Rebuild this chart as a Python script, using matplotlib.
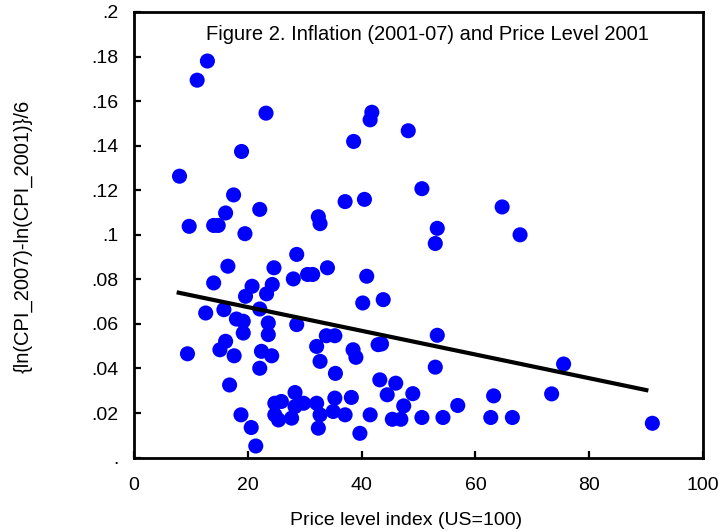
import matplotlib
matplotlib.use("Agg")
import matplotlib.pyplot as plt
import numpy as np

plt.rcParams['font.family'] = ['Liberation Sans', 'DejaVu Sans']

price_level = [
    8.0, 11.1, 12.9, 23.2, 18.9, 17.5, 22.1, 16.1, 9.7, 14.0, 14.8, 19.5,
    32.4, 32.7, 37.1, 40.5, 38.6, 41.8, 41.5, 48.2, 50.6, 64.7, 53.3, 52.95,
    67.85, 53.3, 52.95, 75.5, 91.1, 73.4, 63.2, 62.7, 66.5, 56.9, 54.3, 50.6,
    49.0, 47.4, 46.9, 45.4, 46.0, 43.2, 44.5, 35.4, 22.1, 16.8, 18.8, 20.6,
    21.4, 24.75, 25.9, 28.3, 29.8, 24.75, 25.4, 27.7, 28.3, 32.1, 32.7, 32.4,
    35.3, 35.0, 37.1, 38.2, 41.5, 39.7, 28.6, 16.5, 24.6, 34.0, 30.5, 31.4,
    28.0, 40.9, 14.0, 20.75, 24.3, 23.3, 19.6, 40.2, 43.8, 12.6, 15.8, 22.1,
    18.0, 19.2, 23.6, 28.6, 19.2, 23.6, 33.8, 35.3, 42.9, 43.5, 16.1, 32.1,
    15.1, 17.6, 22.4, 24.2, 38.5, 39.0, 32.7, 9.4,
]
inflation = [
    0.1263, 0.1694, 0.1780, 0.1546, 0.1374, 0.1179, 0.1114, 0.1098, 0.1038, 0.1042, 0.1042, 0.1005,
    0.1081, 0.1050, 0.1149, 0.1159, 0.1419, 0.1550, 0.1516, 0.1467, 0.1207, 0.1125, 0.1029, 0.0961,
    0.1000, 0.0549, 0.0406, 0.0420, 0.0154, 0.0286, 0.0277, 0.0180, 0.0180, 0.0234, 0.0180, 0.0180,
    0.0287, 0.0232, 0.0172, 0.0172, 0.0334, 0.0349, 0.0282, 0.0378, 0.0401, 0.0326, 0.0192, 0.0135,
    0.0052, 0.0244, 0.0252, 0.0292, 0.0244, 0.0192, 0.0169, 0.0177, 0.0229, 0.0244, 0.0192, 0.0132,
    0.0267, 0.0207, 0.0192, 0.0270, 0.0192, 0.0109, 0.0912, 0.0859, 0.0852, 0.0852, 0.0822, 0.0822,
    0.0802, 0.0814, 0.0784, 0.0769, 0.0777, 0.0735, 0.0724, 0.0694, 0.0709, 0.0649, 0.0664, 0.0667,
    0.0622, 0.0612, 0.0604, 0.0597, 0.0559, 0.0552, 0.0547, 0.0547, 0.0507, 0.0510, 0.0522, 0.0499,
    0.0484, 0.0457, 0.0477, 0.0457, 0.0484, 0.0450, 0.0432, 0.0466,
]

# fitted line (value at the two ends of the data range)
fit_x_ends = [7.5, 90.4]
fit_y_ends = [0.0742, 0.0301]

x_ticks = [0, 20, 40, 60, 80, 100]
x_tick_labels = ["0", "20", "40", "60", "80", "100"]
y_ticks = [0, 0.02, 0.04, 0.06, 0.08, 0.10, 0.12, 0.14, 0.16, 0.18, 0.20]
y_tick_labels = [".", ".02", ".04", ".06", ".08", ".1", ".12", ".14", ".16", ".18", ".2"]

title = "Figure 2. Inflation (2001-07) and Price Level 2001"
x_label = "Price level index (US=100)"
y_label = "{ln(CPI_2007)-ln(CPI_2001)}/6"

W, H = 723, 531
fig = plt.figure(figsize=(W / 100, H / 100), dpi=100)
ax = fig.add_axes([134 / W, 1 - 457.6 / H, 569 / W, 445.6 / H])

ax.scatter(price_level, inflation, s=118, color="#0000FF", edgecolors="none", zorder=2)
ax.plot(fit_x_ends, fit_y_ends, color="black", lw=3.0, solid_capstyle="butt", zorder=3)

ax.set_xlim(0, 100)
ax.set_ylim(0, 0.2)
ax.set_xticks(x_ticks)
ax.set_xticklabels(x_tick_labels)
ax.set_yticks(y_ticks)
ax.set_yticklabels(y_tick_labels)
ax.tick_params(direction="in", length=5, width=1.6, labelsize=14, colors="black")
ax.tick_params(axis="x", pad=14)
ax.tick_params(axis="y", pad=11)
for sp in ax.spines.values():
    sp.set_linewidth(2.0)
    sp.set_color("black")

ax.set_xlabel(x_label, fontsize=14)
ax.xaxis.set_label_coords(406 / W, 1 - 512 / H, transform=fig.transFigure)
ax.set_ylabel(y_label, fontsize=14.5)
ax.yaxis.set_label_coords(33 / W, 1 - 236 / H, transform=fig.transFigure)
ax.text(0.516, 0.9506, title, transform=ax.transAxes, ha="center", va="center", fontsize=14.5)

fig.savefig("out.png", dpi=100)
